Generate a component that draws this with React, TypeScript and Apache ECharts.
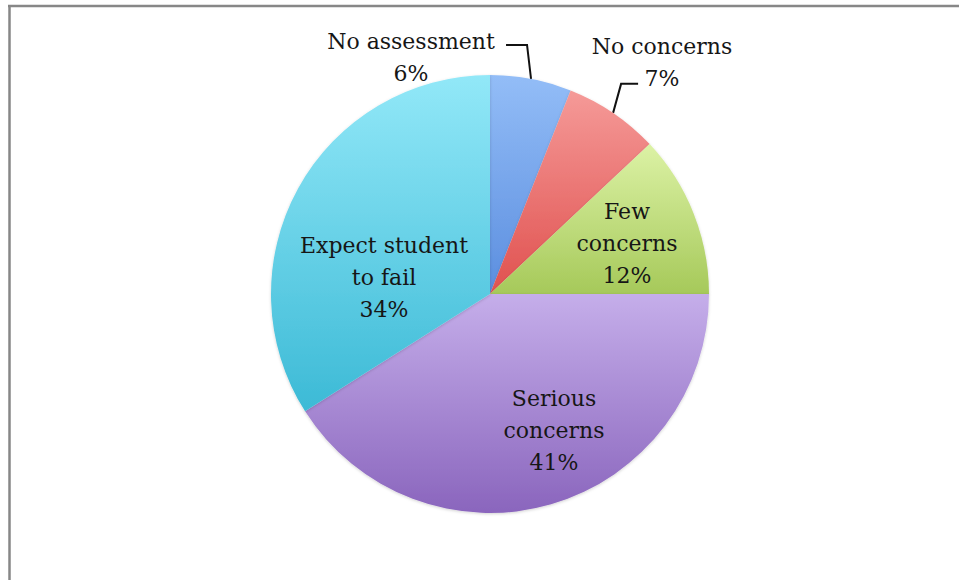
import React, { useEffect, useRef } from "react";
import * as echarts from "echarts";

// ---- data ----
const categories = ["No assessment", "No concerns", "Few concerns", "Serious concerns", "Expect student to fail"];
const labelNames = ["No assessment", "No concerns", "Few\nconcerns", "Serious\nconcerns", "Expect student\nto fail"];
const values = [6, 7, 12, 41, 34];

// ---- styles ----
const gradientTops = ["#93bdf7", "#f59a98", "#dcf2a5", "#c5aeea", "#92e8f8"];
const gradientBottoms = ["#5b8edf", "#e0514f", "#a6c95a", "#8a65bd", "#3cbad6"];

const CX = 490;
const CY = 294;
const R = 219;
const FONT = "'DejaVu Serif', 'Liberation Serif', serif";
const TEXT_COLOR = "#161616";

// label centre offsets relative to pie centre (layout only)
const labelOffsets: [number, number][] = [
  [-79, -237],
  [172, -232],
  [137, -51],
  [64, 136],
  [-106, -17],
];

function edgePoint(i: number): [number, number] {
  const total = values.reduce((a, b) => a + b, 0);
  let start = 0;
  for (let k = 0; k < i; k++) start += values[k];
  const mid = ((start + values[i] / 2) / total) * Math.PI * 2;
  return [CX + R * Math.sin(mid), CY - R * Math.cos(mid)];
}

export default function App() {
  const ref = useRef<HTMLDivElement>(null);
  useEffect(() => {
    if (!ref.current) return;
    const chart = echarts.init(ref.current, undefined, { renderer: "svg" });
    const data = categories.map((name, i) => {
      const outer = i < 2;
      return {
        name,
        value: values[i],
        itemStyle: {
          color: new echarts.graphic.LinearGradient(0, 0, 0, 1, [
            { offset: 0, color: gradientTops[i] },
            { offset: 1, color: gradientBottoms[i] },
          ]),
        },
        label: {
          position: outer ? "outside" : "inside",
        },
        labelLine: { show: outer },
      };
    });
    chart.setOption({
      animation: false,
      backgroundColor: "#ffffff",
      graphic: [
        {
          type: "line",
          shape: { x1: 8, y1: 6, x2: 959, y2: 6 },
          style: { stroke: "#878787", lineWidth: 2.5 },
          silent: true,
        },
        {
          type: "line",
          shape: { x1: 9.5, y1: 5, x2: 9.5, y2: 580 },
          style: { stroke: "#878787", lineWidth: 2.5 },
          silent: true,
        },
      ],
      series: [
        {
          type: "pie",
          center: [CX, CY],
          radius: R,
          startAngle: 90,
          clockwise: true,
          data,
          itemStyle: {
            shadowBlur: 3,
            shadowColor: "rgba(0,0,0,0.18)",
            shadowOffsetY: 1,
          },
          label: {
            show: true,
            formatter: (p: any) => `${labelNames[p.dataIndex]}\n${p.value}%`,
            fontFamily: FONT,
            fontSize: 22,
            lineHeight: 32,
            color: TEXT_COLOR,
            align: "center",
          },
          labelLine: {
            show: true,
            lineStyle: { color: "#111111", width: 2 },
          },
          labelLayout: (params: any) => {
            const i = params.dataIndex;
            const [ox, oy] = labelOffsets[i];
            const res: any = {
              x: CX + ox,
              y: CY + oy,
              align: "center",
              verticalAlign: "middle",
            };
            if (i === 0) {
              const e = edgePoint(0);
              res.labelLinePoints = [e, [e[0] - 4, e[1] - 34], [e[0] - 25, e[1] - 34]];
            } else if (i === 1) {
              const e = edgePoint(1);
              res.labelLinePoints = [e, [e[0] + 8, e[1] - 29], [e[0] + 25, e[1] - 29]];
            }
            return res;
          },
        },
      ],
    });
    return () => chart.dispose();
  }, []);
  return (
    <div
      ref={ref}
      style={{ position: "fixed", left: 0, top: 0, width: 959, height: 580 }}
    />
  );
}
